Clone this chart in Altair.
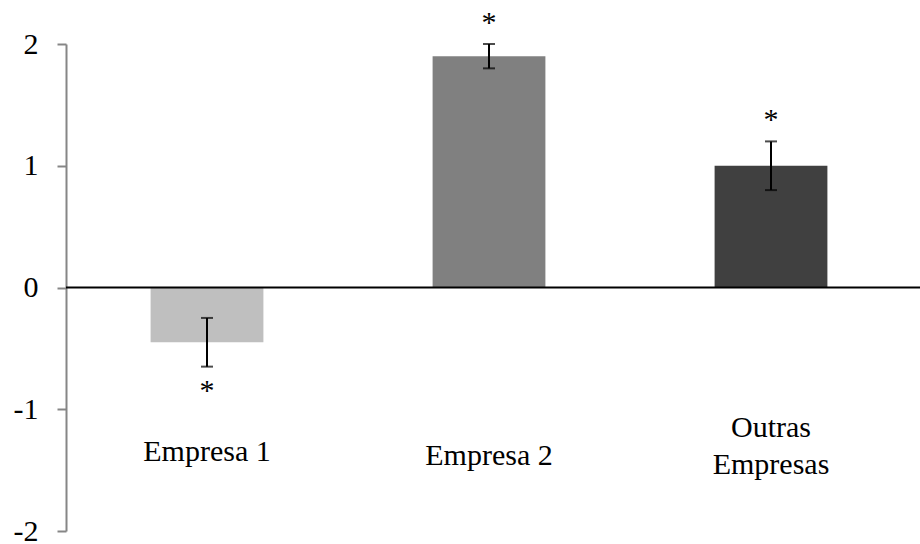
import altair as alt
import pandas as pd

# Mean scores per company, with the half-width of each error bar
categories = ["Empresa 1", "Empresa 2", "Outras Empresas"]
means = [-0.45, 1.9, 1.0]
errors = [0.2, 0.1, 0.2]
bar_colors = ["#BFBFBF", "#808080", "#404040"]

# Category captions (multi-line where needed) and their baseline in plot pixels
caption_lines = [["Empresa 1"], ["Empresa 2"], ["Outras", "Empresas"]]
caption_baseline = [417, 421, 393]

y_ticks = [-2, -1, 0, 1, 2]

FONT = "Liberation Serif"
AXIS_GREY = "#868686"

df = pd.DataFrame({"cat": categories, "mean": means, "err": errors})
df["lo"] = df["mean"] - df["err"]
df["hi"] = df["mean"] + df["err"]
df["tip"] = [lo if m < 0 else hi for m, lo, hi in zip(df["mean"], df["lo"], df["hi"])]

x_scale = alt.Scale(domain=categories, paddingInner=0.6, paddingOuter=0.3)
y_scale = alt.Scale(domain=[-2, 2], nice=False, zero=False)

x_enc = alt.X("cat:N", scale=x_scale, axis=None, sort=categories)

base = alt.Chart(df)

bars = base.mark_bar().encode(
    x=x_enc,
    y=alt.Y(
        "mean:Q",
        scale=y_scale,
        title=None,
        axis=alt.Axis(
            values=y_ticks,
            labelExpr="'' + datum.value",  # plain hyphen for negatives
            grid=False,
            domainColor=AXIS_GREY,
            domainWidth=2,
            tickColor=AXIS_GREY,
            tickWidth=2,
            tickSize=9,
            labelFont=FONT,
            labelFontSize=30,
            labelColor="black",
            labelPadding=19,
            labelBaseline="middle",
        ),
    ),
    y2=alt.Y2(datum=0),
    color=alt.Color("cat:N", scale=alt.Scale(domain=categories, range=bar_colors), legend=None),
)

zero_line = alt.Chart(pd.DataFrame({"z": [0]})).mark_rule(color="black", strokeWidth=2).encode(
    y=alt.Y("z:Q", scale=y_scale, title=None),
    x=alt.value(0),
    x2=alt.value(854),
)

err_stem = base.mark_rule(color="black", strokeWidth=2).encode(
    x=x_enc,
    y=alt.Y("lo:Q", scale=y_scale, title=None),
    y2="hi:Q",
)

err_cap_lo = base.mark_tick(color="black", thickness=2, size=12).encode(
    x=x_enc, y=alt.Y("lo:Q", scale=y_scale, title=None)
)
err_cap_hi = base.mark_tick(color="black", thickness=2, size=12).encode(
    x=x_enc, y=alt.Y("hi:Q", scale=y_scale, title=None)
)

star_style = dict(font=FONT, fontSize=30, color="black", align="center", baseline="middle")
stars_below = base.transform_filter("datum.mean < 0").mark_text(dy=24, **star_style).encode(
    x=x_enc, y=alt.Y("tip:Q", scale=y_scale, title=None), text=alt.value("*")
)
stars_above = base.transform_filter("datum.mean >= 0").mark_text(dy=-21, **star_style).encode(
    x=x_enc, y=alt.Y("tip:Q", scale=y_scale, title=None), text=alt.value("*")
)

captions = []
for cat, lines, ypx in zip(categories, caption_lines, caption_baseline):
    captions.append(
        alt.Chart(pd.DataFrame({"cat": [cat]}))
        .mark_text(font=FONT, fontSize=30, color="black", align="center",
                   baseline="alphabetic", lineHeight=37)
        .encode(x=x_enc, y=alt.value(ypx), text=alt.value(lines))
    )

chart = (
    alt.layer(bars, zero_line, err_stem, err_cap_lo, err_cap_hi, stars_below, stars_above, *captions)
    .properties(
        width=846,
        height=487,
        autosize=alt.AutoSizeParams(type="none"),
        padding={"left": 66, "top": 44, "right": 8, "bottom": 13},
        background="white",
    )
    .configure_view(stroke=None)
)

chart.save("out.html", embed_options={"renderer": "svg", "actions": False})
